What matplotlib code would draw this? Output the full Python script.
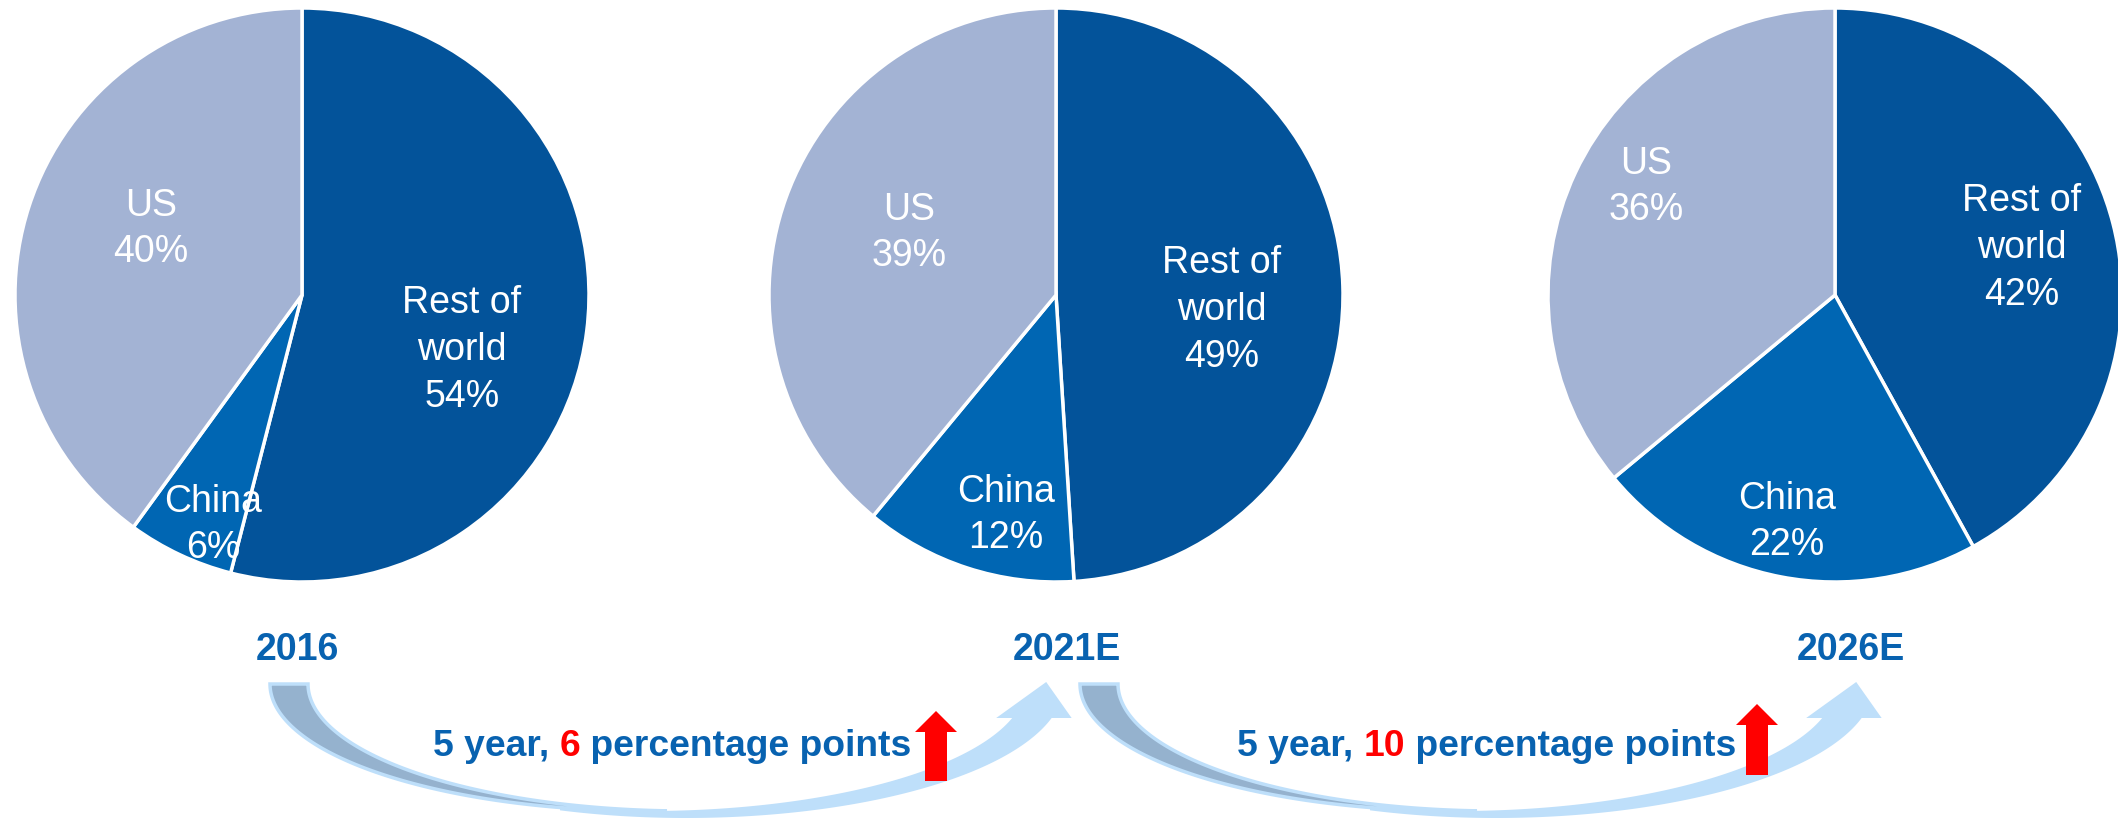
import numpy as np
import matplotlib.pyplot as plt
from matplotlib.patches import Polygon

# share of the market, per year
years = ['2016', '2021E', '2026E']
regions = ['Rest of\nworld', 'China', 'US']
rest_of_world = [54, 49, 42]
china = [6, 12, 22]
us = [40, 39, 36]
china_gain = [6, 10]

plt.rcParams['font.family'] = ['Liberation Sans', 'DejaVu Sans']

W, H = 2118, 820
fig = plt.figure(figsize=(W / 100, H / 100), dpi=100)
ax = fig.add_axes([0, 0, 1, 1])

colors = ['#03539A', '#0066B3', '#A3B3D4']
blue = '#0862B0'
light = '#BEDFFA'
dark = '#95B2CE'

pie_x = [302, 1056, 1835]
pie_y = 296
radius = 287
# label offsets from the pie centre in pixels (y down)
label_off = [[(160, 54), (-89, 229), (-151, -67)],
             [(166, 14), (-50, 219), (-147, -63)],
             [(187, -48), (-48, 226), (-189, -109)]]

for i in range(3):
    vals = [rest_of_world[i], china[i], us[i]]
    ax.pie(vals, colors=colors, center=(pie_x[i], pie_y), radius=radius,
           startangle=-90, counterclock=True, frame=True,
           wedgeprops=dict(edgecolor='white', linewidth=2.5))
    for j in range(3):
        dx, dy = label_off[i][j]
        ax.text(pie_x[i] + dx, pie_y + dy, f'{regions[j]}\n{vals[j]}%',
                color='white', fontsize=27, ha='center', va='center',
                linespacing=1.38)

# year labels
year_x = [297, 1067, 1851]
for i in range(3):
    ax.text(year_x[i], 650, years[i], color=blue, fontsize=27,
            fontweight='bold', ha='center', va='center')


def curved_arrow(x0, y0=685, a=378, b=127, d=38, y_base=719, extra=7):
    cA = x0 + a
    cB = cA + d
    t_int = np.arccos(d / (2 * a))
    t_end = np.arcsin((y_base - y0) / b)
    # back (shaded) part of the band
    tA = np.linspace(np.pi, t_int, 120)
    tB = np.linspace(np.pi - t_int, np.pi, 120)
    back = np.r_[np.c_[cA + a * np.cos(tA), y0 + b * np.sin(tA)],
                 np.c_[cB + a * np.cos(tB), y0 + b * np.sin(tB)]]
    # front part with the head, its outer edge a bit deeper
    b2 = b + extra
    t_end2 = np.arcsin((y_base - y0) / b2)
    t_left = np.arccos((x0 + 290 - cA) / a)
    tA2 = np.linspace(t_left, t_end, 150)
    tB2 = np.linspace(t_end2, np.arccos((x0 + 290 - cB) / a), 150)
    xa = cA + a * np.cos(t_end)
    xb = cB + a * np.cos(t_end2)
    head = [[xa - 16, y_base], [xa + 34, y_base - 36], [xb + 20, y_base]]
    front = np.r_[np.c_[cA + a * np.cos(tA2), y0 + b * np.sin(tA2)], head,
                  np.c_[cB + a * np.cos(tB2), y0 + b2 * np.sin(tB2)]]
    ax.add_patch(Polygon(front, closed=True, facecolor=light, edgecolor='none'))
    ax.add_patch(Polygon(back, closed=True, facecolor=dark, edgecolor=light,
                         linewidth=2.5))


arrow_x = [270, 1080]
text_x = [433, 1237]
red_x = [936, 1757]
red_bottom = [782, 776]
red_tip = [712, 705]
for k in range(2):
    curved_arrow(arrow_x[k])
    t1 = ax.text(text_x[k], 747, '5 year, ', color=blue, fontsize=26.8,
                 fontweight='bold', ha='left', va='center')
    t2 = ax.annotate(f'{china_gain[k]}', xy=(1, 0), xycoords=t1,
                     color='red', fontsize=26.8, fontweight='bold',
                     ha='left', va='bottom')
    ax.annotate(' percentage points', xy=(1, 0), xycoords=t2,
                color=blue, fontsize=26.8, fontweight='bold',
                ha='left', va='bottom')
    ax.arrow(red_x[k], red_bottom[k], 0, red_tip[k] - red_bottom[k],
             width=22, head_width=42, head_length=21,
             length_includes_head=True, color='red', linewidth=0)

ax.set_xlim(0, W)
ax.set_ylim(H, 0)
ax.axis('off')

fig.savefig('out.png', dpi=100)
